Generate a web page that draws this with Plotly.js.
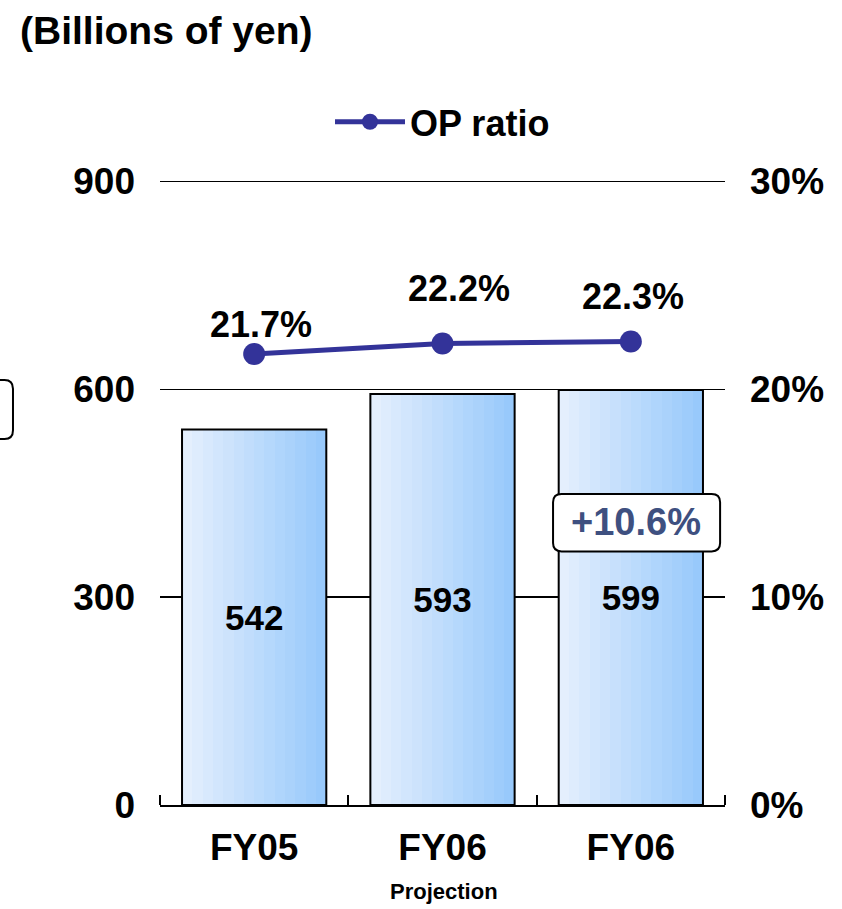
<!DOCTYPE html>
<html>
<head>
<meta charset="utf-8">
<script src="https://cdn.plot.ly/plotly-3.0.1.min.js"></script>
<style>
  html, body { margin: 0; padding: 0; background: #fff; }
  #chart { width: 842px; height: 909px; }
</style>
</head>
<body>
<div id="chart"></div>
<script>
// ---- data ----
const categories = ['FY05', 'FY06', 'FY06'];
const opValues = [542, 593, 599];
const opRatio = [21.7, 22.2, 22.3];
const leftTickVals = [0, 300, 600, 900];
const rightTickVals = [0, 10, 20, 30];
const rightTickText = ['0%', '10%', '20%', '30%'];
const growthText = '+10.6%';
const projectionText = 'Projection';
const unitTitle = '(Billions of yen)';
const lineName = 'OP ratio';

// ---- styling ----
const FONT = 'Liberation Sans, Arial, sans-serif';
const xIdx = categories.map((_, i) => i);
const barW = 0.766;
const nStrips = 14;
const cL = [228, 239, 253], cR = [152, 201, 251];
const yTop = 902;               // slight headroom so the 900 gridline is drawn
const y2Top = 30 * yTop / 900;

const traces = [];
for (let k = 0; k < nStrips; k++) {
  const t = k / (nStrips - 1);
  const c = cL.map((v, j) => Math.round(v + (cR[j] - v) * t));
  traces.push({
    type: 'bar', x: xIdx, y: opValues,
    width: barW / nStrips + 0.002,
    offset: -barW / 2 + k * barW / nStrips,
    marker: { color: `rgb(${c[0]},${c[1]},${c[2]})`, line: { width: 0 } },
    showlegend: false, hoverinfo: 'skip'
  });
}
// outline + value labels
traces.push({
  type: 'bar', x: xIdx, y: opValues, width: barW, offset: -barW / 2,
  marker: { color: 'rgba(0,0,0,0)', line: { color: '#000', width: 2 } },
  text: opValues.map(String), textposition: 'inside', insidetextanchor: 'middle',
  textangle: 0, constraintext: 'none',
  insidetextfont: { family: FONT, size: 35, color: '#000', weight: 'bold' },
  showlegend: false, hoverinfo: 'skip'
});
// OP ratio line
traces.push({
  type: 'scatter', mode: 'lines+markers', name: lineName,
  x: xIdx, y: opRatio, yaxis: 'y2',
  line: { color: '#333399', width: 5 },
  marker: { color: '#333399', size: 22 },
  hoverinfo: 'skip'
});

// label offsets for ratio values
const lblDx = [7, 16, 2], lblDy = [29, 55, 45];
const annotations = opRatio.map((v, i) => ({
  x: xIdx[i], y: v, xref: 'x', yref: 'y2', showarrow: false,
  text: v.toFixed(1) + '%', xshift: lblDx[i], yshift: lblDy[i],
  font: { family: FONT, size: 36, color: '#000', weight: 'bold' }
}));
annotations.push({
  x: 2.03, y: 408, xref: 'x', yref: 'y', showarrow: false,
  text: growthText,
  font: { family: FONT, size: 38, color: '#3e5080', weight: 'bold' }
});
annotations.push({
  x: 1.01, y: -0.139, xref: 'x', yref: 'paper', showarrow: false,
  yanchor: 'middle',
  text: projectionText,
  font: { family: FONT, size: 22, color: '#000', weight: 'bold' }
});

// rounded rectangle path helper (decorative boxes)
function rrect(x0, x1, y0, y1, rx, ry) {
  return `M ${x0 + rx},${y0} L ${x1 - rx},${y0} Q ${x1},${y0} ${x1},${y0 + ry} ` +
         `L ${x1},${y1 - ry} Q ${x1},${y1} ${x1 - rx},${y1} L ${x0 + rx},${y1} ` +
         `Q ${x0},${y1} ${x0},${y1 - ry} L ${x0},${y0 + ry} Q ${x0},${y0} ${x0 + rx},${y0} Z`;
}
const shapes = [
  { type: 'path', xref: 'x', yref: 'y', layer: 'above',
    path: rrect(1.587, 2.474, 366, 449, 0.045, 12),
    fillcolor: '#fff', line: { color: '#000', width: 2 } },
  { type: 'path', xref: 'paper', yref: 'paper', layer: 'above',
    path: rrect(-0.33, -0.2602, 0.5856, 0.68, 0.015, 0.014),
    fillcolor: 'rgba(0,0,0,0)', line: { color: '#000', width: 2 } }
];

const layout = {
  width: 842, height: 909,
  margin: { l: 160, r: 117, t: 180, b: 104 },
  paper_bgcolor: '#fff', plot_bgcolor: '#fff',
  barmode: 'overlay', bargap: 0,
  font: { family: FONT, color: '#000' },
  title: {
    text: unitTitle, xref: 'container', yref: 'container',
    x: 20 / 842, xanchor: 'left', y: 1 - 30 / 909, yanchor: 'middle',
    font: { family: FONT, size: 39, color: '#000', weight: 'bold' }
  },
  showlegend: true,
  legend: {
    orientation: 'h', x: 0.5, xanchor: 'center', y: 1.093, yanchor: 'middle',
    font: { family: FONT, size: 36, color: '#000', weight: 'bold' },
    itemwidth: 70, bgcolor: 'rgba(0,0,0,0)'
  },
  xaxis: {
    range: [-0.5, 2.5], tickmode: 'array', tickvals: xIdx, ticktext: categories,
    ticks: '', showgrid: false, zeroline: false,
    showline: true, linecolor: '#000', linewidth: 2,
    tickfont: { family: FONT, size: 37, color: '#000', weight: 'bold' },
    ticklabelstandoff: 9,
    minor: { tickmode: 'array', tickvals: [-0.5, 0.5, 1.5, 2.5], ticks: 'inside',
             ticklen: 10, tickwidth: 2, tickcolor: '#000', showgrid: false },
    fixedrange: true
  },
  yaxis: {
    range: [0, yTop], tickmode: 'array', tickvals: leftTickVals,
    showgrid: true, gridcolor: '#000', gridwidth: 1.5,
    zeroline: false, showline: false, ticks: '',
    tickfont: { family: FONT, size: 37, color: '#000', weight: 'bold' },
    ticklabelstandoff: 24, fixedrange: true
  },
  yaxis2: {
    overlaying: 'y', side: 'right', range: [0, y2Top], tickmode: 'array',
    tickvals: rightTickVals, ticktext: rightTickText,
    showgrid: false, zeroline: false, showline: false, ticks: '',
    tickfont: { family: FONT, size: 37, color: '#000', weight: 'bold' },
    ticklabelstandoff: 24, fixedrange: true
  },
  annotations: annotations,
  shapes: shapes
};

Plotly.newPlot('chart', traces, layout, { displayModeBar: false, staticPlot: true });
</script>
</body>
</html>
